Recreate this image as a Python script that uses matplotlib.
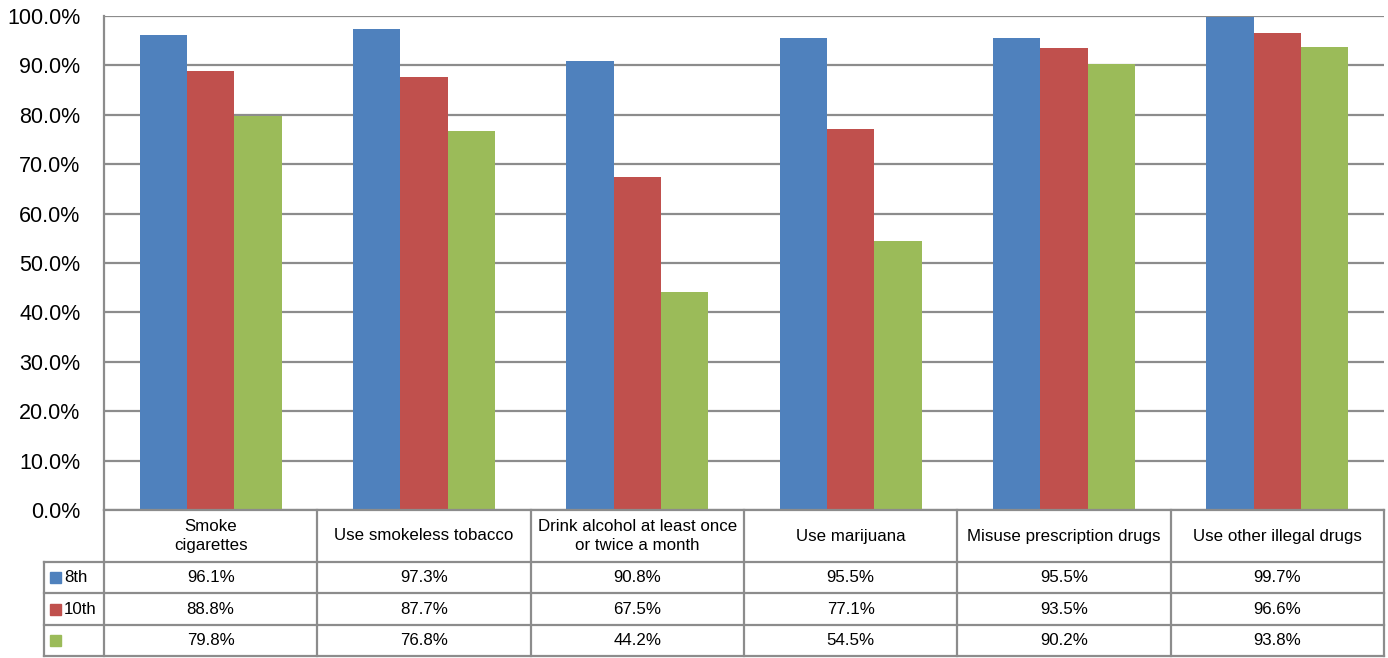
import matplotlib
matplotlib.use("Agg")
import matplotlib.pyplot as plt
from matplotlib.patches import Rectangle

# данные графика
categories = ["Smoke\ncigarettes", "Use smokeless tobacco",
              "Drink alcohol at least once\nor twice a month", "Use marijuana",
              "Misuse prescription drugs", "Use other illegal drugs"]
series_names = ["8th", "10th", ""]
grade_8 = [96.1, 97.3, 90.8, 95.5, 95.5, 99.7]
grade_10 = [88.8, 87.7, 67.5, 77.1, 93.5, 96.6]
grade_12 = [79.8, 76.8, 44.2, 54.5, 90.2, 93.8]
y_ticks = [0, 10, 20, 30, 40, 50, 60, 70, 80, 90, 100]

colors = ["#4F81BD", "#C0504D", "#9BBB59"]
line_color = "#8C8C8C"

plt.rcParams['font.family'] = ['Liberation Sans', 'DejaVu Sans']
tick_size, cell_size = 15.5, 12.2

W, H = 1388, 658
fig = plt.figure(figsize=(W / 100, H / 100), dpi=100)

# область графика в пикселях
left, right, top, bottom = 104, 1384, 16, 510
ax = fig.add_axes([left / W, 1 - bottom / H, (right - left) / W, (bottom - top) / H])

series = [grade_8, grade_10, grade_12]
n = len(categories)
bw = 0.222
for k, vals in enumerate(series):
    xs = [i + 0.5 + (k - 1) * bw for i in range(n)]
    ax.bar(xs, vals, width=bw, color=colors[k], zorder=3, linewidth=0)

ax.set_xlim(0, n)
ax.set_ylim(0, 100)
ax.set_yticks(y_ticks)
ax.set_yticklabels([f"{t:.1f}%" for t in y_ticks])
ax.set_xticks([])
ax.tick_params(axis='y', length=0, pad=17, labelsize=tick_size)
ax.grid(axis='y', color=line_color, linewidth=1.6, zorder=0)
for s in ['top', 'right', 'bottom']:
    ax.spines[s].set_visible(False)
ax.spines['left'].set_color(line_color)
ax.spines['left'].set_linewidth(1.6)

# таблица данных под графиком
tab = fig.add_axes([0, 0, 1, 1], facecolor='none')
tab.set_xlim(0, W)
tab.set_ylim(H, 0)
tab.axis('off')

col_w = (right - left) / n
row_tops = [510, 562, 593, 625, 656]
label_left = 44
lw = 1.6

# горизонтальные линии
tab.plot([left, right], [row_tops[0], row_tops[0]], color=line_color, lw=lw)
for y in row_tops[1:]:
    tab.plot([label_left, right], [y, y], color=line_color, lw=lw)
# вертикальные линии
tab.plot([label_left, label_left], [row_tops[1], row_tops[-1]], color=line_color, lw=lw)
for i in range(n + 1):
    x = left + i * col_w
    tab.plot([x, x], [row_tops[0], row_tops[-1]], color=line_color, lw=lw)

# заголовки категорий
for i, c in enumerate(categories):
    tab.text(left + (i + 0.5) * col_w, (row_tops[0] + row_tops[1]) / 2, c,
             ha='center', va='center', fontsize=cell_size, linespacing=1.4)

# строки значений
for k, vals in enumerate(series):
    yc = (row_tops[k + 1] + row_tops[k + 2]) / 2
    tab.add_patch(Rectangle((50, yc - 5.5), 11, 11, color=colors[k]))
    tab.text(64, yc, series_names[k], ha='left', va='center', fontsize=cell_size)
    for i, v in enumerate(vals):
        tab.text(left + (i + 0.5) * col_w, yc, f"{v:.1f}%",
                 ha='center', va='center', fontsize=cell_size)

plt.savefig("out.png", dpi=100)
